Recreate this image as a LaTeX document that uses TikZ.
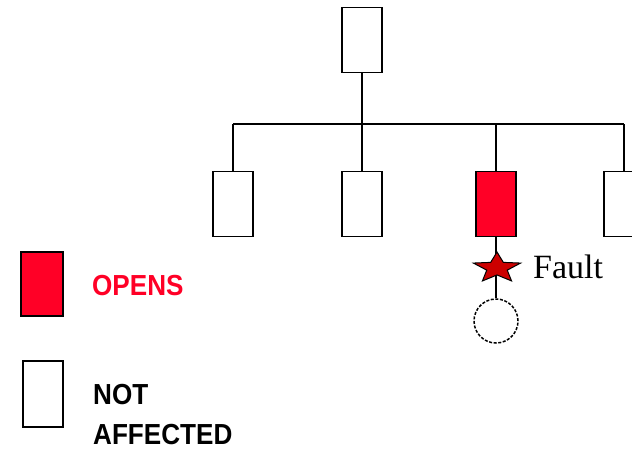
\documentclass[tikz,border=0pt]{standalone}
\usepackage{fontspec}
\setmainfont{Liberation Serif}
\setsansfont{Liberation Sans}
\usetikzlibrary{shapes.geometric}
\definecolor{openred}{HTML}{FF0026}
\definecolor{faultred}{HTML}{CC0000}
\tikzset{
  unit/.style={draw, line width=1.6pt, inner sep=0pt, minimum width=40pt, minimum height=65pt, fill=white},
  opened/.style={unit, fill=openred},
  legtxt/.style={font=\sffamily\bfseries\fontsize{29}{29}\selectfont, inner sep=0pt, xscale=0.9},
  wire/.style={line width=1.6pt}
}
\begin{document}
\begin{tikzpicture}[x=1pt, y=-1pt]
\useasboundingbox (0,0) rectangle (632,451);
% feeder and laterals
\node[unit] (top) at (362,40) {};
\node[unit] (c1) at (233,204) {};
\node[unit] (c2) at (362,204) {};
\node[opened] (c3) at (496,204) {};
\node[unit] (c4) at (624,204) {};
\coordinate (busL) at (233,124);
\coordinate (busR) at (624,124);
\draw[wire] (busL) -- (busR);
\draw[wire] (top.south) -- (top.south |- busL);
\foreach \c in {c1,c2,c3,c4}
  \draw[wire] (\c.north) -- (\c.north |- busL);
% load with fault
\node[draw, circle, dash pattern=on 3pt off 1.6pt, line width=1.5pt, minimum size=44pt, inner sep=0pt] (load) at (496,321) {};
\draw[wire] (c3.south) -- (load.north);
\node[star, star points=5, star point ratio=2.3, draw, line width=1pt, fill=faultred, minimum size=32pt, inner sep=0pt, xscale=1.55] (flt) at (497,268) {};
\node[anchor=base west, inner sep=0pt, font=\fontsize{34}{34}\selectfont] (flttxt) at (533,278) {Fault};
% legend
\node[opened, minimum width=42pt, minimum height=64pt] (legred) at (42,284) {};
\node[unit, minimum height=66pt] (legwht) at (43,394) {};
\node[legtxt, text=openred, anchor=base west] (opentxt) at (92,295) {OPENS};
\node[legtxt, anchor=base west] (nottxt) at (93,404) {NOT};
\node[legtxt, anchor=base west] (afftxt) at (93,444) {AFFECTED};
\end{tikzpicture}
\end{document}
